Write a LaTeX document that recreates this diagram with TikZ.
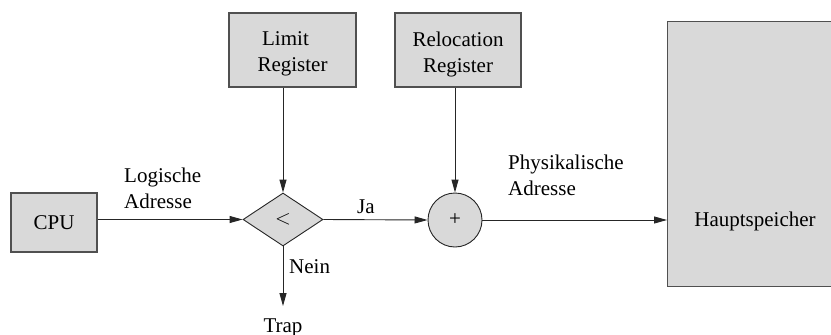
\documentclass[tikz,border=0pt]{standalone}
\usepackage{fontspec}
\setmainfont{Liberation Serif}
\usetikzlibrary{shapes.geometric,arrows.meta}
\definecolor{boxfill}{HTML}{D9D9D9}
\definecolor{boxline}{HTML}{505050}
\newcommand{\lowertext}[1]{\raisebox{-4pt}[\height][\depth]{#1}}
\begin{document}
\begin{tikzpicture}[x=1pt,y=-1pt,
  every node/.style={font=\fontsize{21}{26}\selectfont, inner sep=0pt},
  graybox/.style={rectangle, draw=boxline, fill=boxfill, line width=1.3pt, align=center},
  flowline/.style={draw=black!85, line width=0.9pt},
  arr/.style={flowline, -{Triangle[length=13pt,width=7pt]}},
  lbl/.style={align=left}]
\useasboundingbox (0,0) rectangle (831,335);
\node[graybox, minimum width=86pt, minimum height=59pt] (cpu) at (54,222.5) {CPU};
\node[graybox, minimum width=127pt, minimum height=74pt] (lim) at (292.5,50) {\lowertext{Limit}\hspace*{14pt}\\\lowertext{Register}};
\node[graybox, minimum width=126pt, minimum height=74pt] (rel) at (458,50) {\lowertext{Relocation}\\\lowertext{Register}};
\node[diamond, draw=black!85, fill=boxfill, line width=0.9pt, minimum width=80pt, minimum height=53pt] (d) at (283,219.5) {$<$};
\node[circle, draw=black!85, fill=boxfill, line width=0.9pt, minimum size=54pt] (c) at (455,220) {+};
\node[graybox, minimum width=176pt, minimum height=265pt, anchor=north west] (hs) at (667,21) {};
\node[anchor=base] (hst) at (755,226) {Hauptspeicher};
\node[lbl, anchor=base west] (la) at (124,208) {Logische\\Adresse};
\node[lbl, anchor=base west] (pa) at (508,195) {Physikalische\\Adresse};
\node[anchor=base west] (ja) at (357,213) {Ja};
\node[anchor=base west] (nein) at (289,273) {Nein};
\node[anchor=base] (trap) at (283,332) {Trap};
\draw[arr] (d.west -| cpu.east) -- (d.west);
\draw[arr] (lim.south -| d.north) -- (d.north);
\draw[arr] (rel.south -| c.north) -- (c.north);
\draw[arr] (d.east) -- (c.west);
\draw[arr] (c.east) -- (c.east -| hs.west);
\draw[arr] (d.south) -- ([yshift=12pt]trap.north);
\end{tikzpicture}
\end{document}
